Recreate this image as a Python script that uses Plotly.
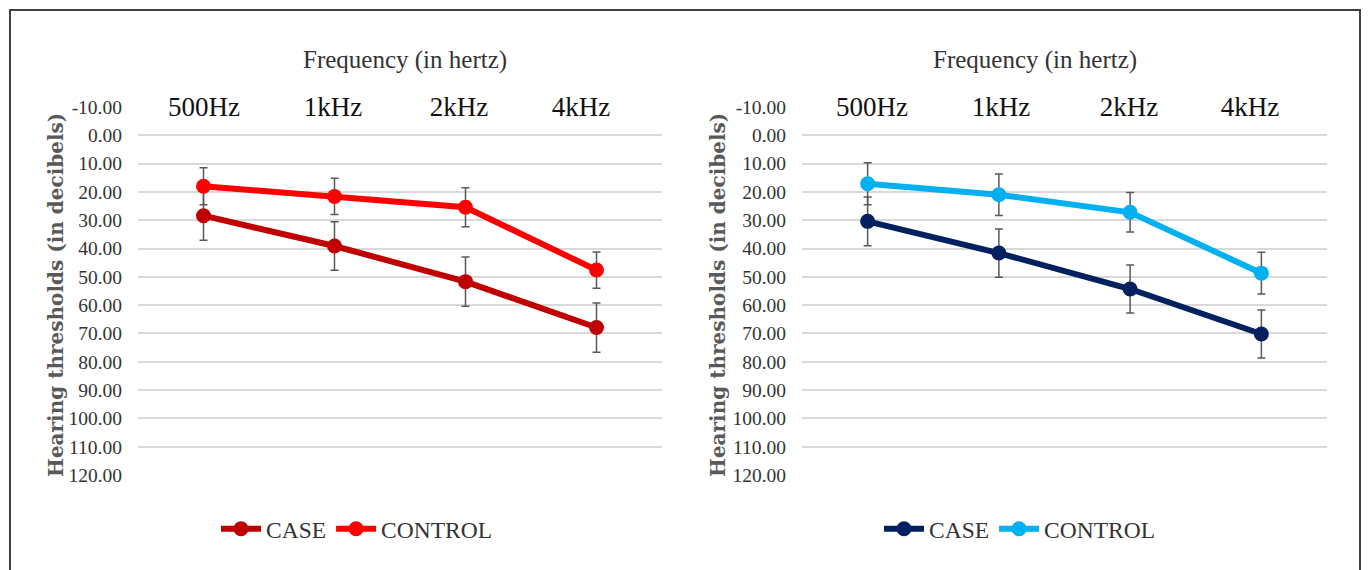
import plotly.graph_objects as go

# ---- data ----
categories = ["500Hz", "1kHz", "2kHz", "4kHz"]
left_case = [28.4, 39.1, 51.7, 67.9]
left_case_sd = [8.7, 8.6, 8.7, 8.7]
left_control = [18.0, 21.6, 25.4, 47.6]
left_control_sd = [6.5, 6.4, 6.9, 6.4]
right_case = [30.4, 41.6, 54.3, 70.2]
right_case_sd = [8.6, 8.5, 8.5, 8.5]
right_control = [17.1, 21.0, 27.2, 48.7]
right_control_sd = [7.4, 7.3, 7.0, 7.4]
series_names = ["CASE", "CONTROL"]
y_ticks = list(range(-10, 121, 10))
y_tick_text = ["%.2f" % v for v in y_ticks]
y_title = "Hearing thresholds (in decibels)"
x_title = "Frequency (in hertz)"

# ---- style ----
SERIF = "Liberation Serif, Times New Roman, serif"
GRID = "#D9D9D9"
ERR = "#595959"
left_colors = ["#C00000", "#FF0000"]
right_colors = ["#002060", "#00B0F0"]
# label boxes (white) hiding the top gridline like the original text boxes
left_label_shift = [0, -2, -7, -16]
left_label_width = [102, 156, 120, 124]
right_label_shift = [4, 2, -1, -11]
right_label_width = [100, 158, 120, 120]

fig = go.Figure()

def add_series(vals, sds, name, color, xa, ya, legend):
    fig.add_trace(go.Scatter(
        x=categories, y=vals, name=name, mode="lines+markers",
        line=dict(color=color, width=6),
        marker=dict(color=color, size=15, symbol="circle"),
        error_y=dict(type="data", array=sds, visible=True, color=ERR,
                     thickness=1.5, width=4),
        xaxis=xa, yaxis=ya, legend=legend,
    ))

add_series(left_case, left_case_sd, series_names[0], left_colors[0], "x", "y", "legend")
add_series(left_control, left_control_sd, series_names[1], left_colors[1], "x", "y", "legend")
add_series(right_case, right_case_sd, series_names[0], right_colors[0], "x2", "y2", "legend2")
add_series(right_control, right_control_sd, series_names[1], right_colors[1], "x2", "y2", "legend2")

yaxis_common = dict(
    range=[120, -10], tickmode="array", tickvals=y_ticks, ticktext=y_tick_text,
    showgrid=True, gridcolor=GRID, gridwidth=2, zeroline=False,
    showline=False, ticks="", ticklabelstandoff=15, automargin=False,
    tickfont=dict(family=SERIF, size=19.5, color="#333333"),
    domain=[1 - 475 / 570, 1 - 107 / 570],
)
xaxis_common = dict(
    type="category", range=[-0.5, 3.5], showgrid=False, zeroline=False,
    showline=False, showticklabels=False, ticks="", automargin=False,
)
legend_common = dict(
    orientation="h", xanchor="left", y=1 - 529 / 570, yanchor="middle",
    font=dict(family=SERIF, size=23.5, color="#333333"),
    itemwidth=40, bgcolor="rgba(0,0,0,0)", tracegroupgap=0,
)

fig.update_layout(
    width=1368, height=570,
    margin=dict(l=0, r=0, t=0, b=0, pad=0, autoexpand=False),
    paper_bgcolor="white", plot_bgcolor="white",
    xaxis=dict(**xaxis_common, domain=[138 / 1368, 662 / 1368], anchor="y"),
    yaxis=dict(**yaxis_common, anchor="x"),
    xaxis2=dict(**xaxis_common, domain=[802 / 1368, 1327 / 1368], anchor="y2"),
    yaxis2=dict(**yaxis_common, anchor="x2"),
    legend=dict(**legend_common, x=216 / 1368),
    legend2=dict(**legend_common, x=879 / 1368),
    showlegend=True,
)

annotations = []
for xr, yr, shifts, widths in [("x", "y", left_label_shift, left_label_width),
                               ("x2", "y2", right_label_shift, right_label_width)]:
    for c, s, w in zip(categories, shifts, widths):
        annotations.append(dict(
            x=c, y=-10, xref=xr, yref=yr, text=c, showarrow=False,
            xanchor="center", yanchor="middle",
            xshift=s, width=w, bgcolor="white", borderpad=0,
            font=dict(family=SERIF, size=27, color="#111111"),
        ))

# chart titles
for xc in [405, 1035]:
    annotations.append(dict(x=xc / 1368, y=1 - 60 / 570, xref="paper", yref="paper",
                            xanchor="center", yanchor="middle",
                            text=x_title, showarrow=False,
                            font=dict(family=SERIF, size=25, color="#333333")))
# y-axis titles
for xc in [56, 718]:
    annotations.append(dict(x=xc / 1368, y=1 - 295 / 570, xref="paper", yref="paper",
                            xanchor="center", yanchor="middle",
                            text="<b>" + y_title + "</b>", showarrow=False, textangle=-90,
                            font=dict(family="DejaVu Serif", size=20, color="#595959")))
fig.update_layout(annotations=annotations)

# outer frame
fig.add_shape(type="rect", xref="paper", yref="paper",
              x0=10 / 1368, x1=1360 / 1368, y0=-0.02, y1=1 - 10 / 570,
              line=dict(color="#404040", width=2), fillcolor="rgba(0,0,0,0)", layer="above")

fig.write_html("out.html")
